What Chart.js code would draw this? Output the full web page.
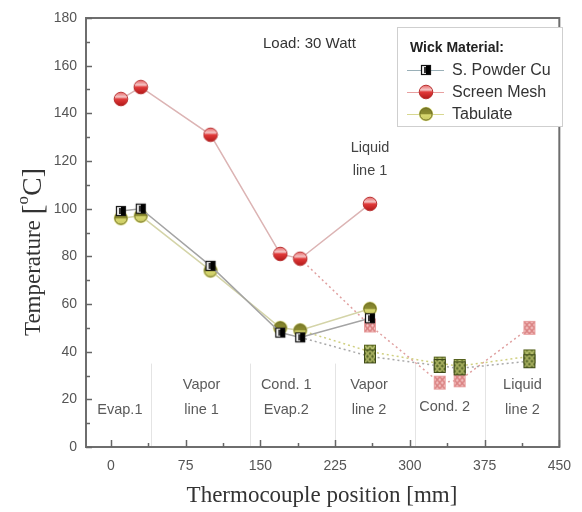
<!DOCTYPE html>
<html>
<head>
<meta charset="utf-8">
<script src="https://cdn.jsdelivr.net/npm/chart.js@4.4.1/dist/chart.umd.min.js"></script>
<style>
html,body{margin:0;padding:0;background:#fff;}
#wrap{width:582px;height:512px;}
</style>
</head>
<body>
<div id="wrap"><canvas id="c" width="582" height="512"></canvas></div>
<script>
// ---- data ----
const seriesNames = ['S. Powder Cu', 'Screen Mesh', 'Tabulate'];
// first loop: Evap.1, Vapor line 1, Cond.1/Evap.2, Liquid line 1
const positionsLoop1 = [10, 30, 100, 170, 190, 260];
// second loop: from Cond.1 end -> Vapor line 2, Cond. 2, Liquid line 2
const positionsLoop2 = [190, 260, 330, 350, 420];
const powderLoop1 = [99, 100, 76, 48, 46, 54];
const powderLoop2 = [46, 38, 34, 33, 36];
const meshLoop1   = [146, 151, 131, 81, 79, 102];
const meshLoop2   = [79, 51, 27, 28, 50];
const tabLoop1    = [96, 97, 74, 50, 49, 58];
const tabLoop2    = [49, 40, 35, 34, 38];
const xTickValues = [0, 75, 150, 225, 300, 375, 450];
const yTickValues = [0, 20, 40, 60, 80, 100, 120, 140, 160, 180];
const regionBoundaries = [40, 140, 225, 305, 375];
const regionLabels = [
  {x: 9,   lines: ['', 'Evap.1']},
  {x: 91,  lines: ['Vapor', 'line 1']},
  {x: 176, lines: ['Cond. 1', 'Evap.2']},
  {x: 259, lines: ['Vapor', 'line 2']},
  {x: 335, lines: ['', 'Cond. 2'], shift: -3},
  {x: 413, lines: ['Liquid', 'line 2']}
];

// ---- marker images ----
function mk(w, h, draw){ const c=document.createElement('canvas'); c.width=w; c.height=h; draw(c.getContext('2d'), w, h); return c; }
const redMarker = mk(16,16,(g)=>{
  const gr=g.createLinearGradient(0,1,0,15);
  gr.addColorStop(0,'#e86060'); gr.addColorStop(0.35,'#f4c8c8'); gr.addColorStop(0.5,'#e23a3a'); gr.addColorStop(1,'#b01818');
  g.beginPath(); g.arc(8,8,6.8,0,Math.PI*2); g.fillStyle=gr; g.fill();
  g.lineWidth=1; g.strokeStyle='#b83030'; g.stroke();
});
const oliveMarker = mk(16,16,(g)=>{
  g.beginPath(); g.arc(8,8,7.3,0,Math.PI*2); g.fillStyle='#f0f0a0'; g.fill();
  const gr=g.createLinearGradient(0,1,0,15);
  gr.addColorStop(0,'#7a7a28'); gr.addColorStop(0.5,'#8c8c30'); gr.addColorStop(0.55,'#d8d870'); gr.addColorStop(1,'#c8c860');
  g.beginPath(); g.arc(8,8,6.2,0,Math.PI*2); g.fillStyle=gr; g.fill();
  g.lineWidth=1; g.strokeStyle='#6a6a20'; g.stroke();
});
const blackMarker = mk(14,14,(g)=>{
  g.fillStyle='#f4f4f4'; g.fillRect(2,2,10,10);
  g.fillStyle='#000'; g.fillRect(7,2,5,10);
  g.fillStyle='#333'; g.fillRect(5,4,2,6);
  g.lineWidth=1.2; g.strokeStyle='#111'; g.strokeRect(2.5,2.5,9,9);
});
function crossed(bg, fg, edge){
  return mk(14,16,(g)=>{
    g.fillStyle=bg; g.fillRect(1,1,12,14);
    g.strokeStyle=fg; g.lineWidth=1.6;
    g.beginPath();
    g.moveTo(2,2); g.lineTo(12,14); g.moveTo(12,2); g.lineTo(2,14);
    g.moveTo(7,2); g.lineTo(12,8); g.lineTo(7,14); g.lineTo(2,8); g.closePath();
    g.stroke();
    g.lineWidth=1; g.strokeStyle=edge; g.strokeRect(1.5,1.5,11,13);
  });
}
const pinkCross = crossed('#f6c6c6', '#d98080', '#e8a0a0');
const oliveCross = crossed('#6b7a30', '#b8c070', '#56621e');
const blackCross = crossed('#58682a', '#a8b060', '#3e4a18');

function pts(xs, ys){ return xs.map((x,i)=>({x:x, y:ys[i]})); }

const datasets = [
  {label: seriesNames[0], data: pts(positionsLoop1, powderLoop1), showLine:true, borderColor:'#a4a4a4', borderWidth:1.5, pointStyle: blackMarker, pointRadius:6},
  {label: seriesNames[2], data: pts(positionsLoop1, tabLoop1), showLine:true, borderColor:'#d4d4a8', borderWidth:1.5, pointStyle: oliveMarker, pointRadius:6},
  {label: seriesNames[1], data: pts(positionsLoop1, meshLoop1), showLine:true, borderColor:'#dcb4b4', borderWidth:1.5, pointStyle: redMarker, pointRadius:6},
  {label: seriesNames[0]+' 2', data: pts(positionsLoop2, powderLoop2), showLine:true, borderColor:'#a8a8a8', borderWidth:1.5, borderDash:[2,3], pointStyle: blackCross, pointRadius:[0,6,6,6,6]},
  {label: seriesNames[2]+' 2', data: pts(positionsLoop2, tabLoop2), showLine:true, borderColor:'#d0d080', borderWidth:1.5, borderDash:[2,3], pointStyle: oliveCross, pointRadius:[0,6,6,6,6]},
  {label: seriesNames[1]+' 2', data: pts(positionsLoop2, meshLoop2), showLine:true, borderColor:'#e0a0a0', borderWidth:1.5, borderDash:[2,3], pointStyle: pinkCross, pointRadius:[0,6,6,6,6]}
];

const SANS = 'Arial, "Liberation Sans", sans-serif';
const SERIF = '"Times New Roman", "Liberation Serif", serif';

const decor = {
  id: 'decor',
  beforeDatasetsDraw(chart){
    const {ctx, chartArea:a, scales:{x, y}} = chart;
    ctx.save();
    ctx.strokeStyle = '#e4e4e4'; ctx.lineWidth = 1;
    regionBoundaries.forEach(v=>{
      const px = Math.round(x.getPixelForValue(v))+0.5;
      ctx.beginPath(); ctx.moveTo(px, a.bottom); ctx.lineTo(px, y.getPixelForValue(35)); ctx.stroke();
    });
    ctx.fillStyle = '#5a5a5a'; ctx.font = '14.5px ' + SANS; ctx.textAlign='center'; ctx.textBaseline='middle';
    regionLabels.forEach(r=>{
      const px = x.getPixelForValue(r.x);
      const s = r.shift || 0;
      if (r.lines[0]) ctx.fillText(r.lines[0], px, a.bottom-62+s);
      ctx.fillText(r.lines[1], px, a.bottom-37+s);
    });
    ctx.restore();
  },
  afterDraw(chart){
    const {ctx, chartArea:a, scales:{x, y}} = chart;
    ctx.save();
    ctx.strokeStyle = '#6e6e6e'; ctx.lineWidth = 2;
    ctx.strokeRect(a.left, a.top, a.right-a.left, a.bottom-a.top);
    ctx.lineWidth = 1.5; ctx.strokeStyle='#666';
    for (let v=0; v<=180; v+=10){
      const py = Math.round(y.getPixelForValue(v))+0.5;
      const len = (v%20===0)?6:4;
      ctx.beginPath(); ctx.moveTo(a.left, py); ctx.lineTo(a.left+len, py); ctx.stroke();
    }
    for (let v=0; v<=450; v+=37.5){
      const px = Math.round(x.getPixelForValue(v))+0.5;
      const len = (v%75===0)?7:4;
      ctx.beginPath(); ctx.moveTo(px, a.bottom); ctx.lineTo(px, a.bottom-len); ctx.stroke();
    }
    ctx.fillStyle = '#333'; ctx.font = '15px ' + SANS; ctx.textBaseline='middle';
    ctx.textAlign='left';
    ctx.fillText('Load: 30 Watt', 263, 44);
    ctx.fillStyle = '#444'; ctx.font = '14.5px ' + SANS; ctx.textAlign='center';
    const lx = x.getPixelForValue(260);
    ctx.fillText('Liquid', lx, 148);
    ctx.fillText('line 1', lx, 171);
    // legend
    ctx.fillStyle='#fff'; ctx.fillRect(397,27,166,100);
    ctx.strokeStyle='#cfcfcf'; ctx.lineWidth=1; ctx.strokeRect(397.5,27.5,165,99);
    ctx.fillStyle='#222'; ctx.textAlign='left'; ctx.font='bold 14px ' + SANS;
    ctx.fillText('Wick Material:', 410, 48);
    const leg = [
      {name: seriesNames[0], img: blackMarker, col:'#9ab0b8'},
      {name: seriesNames[1], img: redMarker, col:'#e8a0a0'},
      {name: seriesNames[2], img: oliveMarker, col:'#d8d890'}
    ];
    leg.forEach((e,i)=>{
      const cy = 70 + i*22;
      ctx.strokeStyle=e.col; ctx.lineWidth=1.2;
      ctx.beginPath(); ctx.moveTo(407,cy+0.5); ctx.lineTo(444,cy+0.5); ctx.stroke();
      ctx.drawImage(e.img, 426 - e.img.width/2, cy - e.img.height/2);
      ctx.fillStyle='#333'; ctx.font='16px ' + SANS;
      ctx.fillText(e.name, 452, cy+1);
    });
    // axis titles
    ctx.fillStyle='#333'; ctx.textAlign='center'; ctx.textBaseline='alphabetic';
    ctx.font='23px ' + SERIF;
    ctx.fillText('Thermocouple position [mm]', 322, 502);
    ctx.translate(40, 252); ctx.rotate(-Math.PI/2);
    const parts = [
      {t:'Temperature ', f:'23px '+SERIF, dy:0},
      {t:'[', f:'30px '+SERIF, dy:2},
      {t:'o', f:'17px '+SERIF, dy:-12},
      {t:'C]', f:'28px '+SERIF, dy:1}
    ];
    let tw=0; parts.forEach(p=>{ctx.font=p.f; p.w=ctx.measureText(p.t).width; tw+=p.w;});
    let cx=-tw/2; ctx.textAlign='left';
    parts.forEach(p=>{ctx.font=p.f; ctx.fillText(p.t, cx, p.dy); cx+=p.w;});
    ctx.restore();
  }
};

new Chart(document.getElementById('c'), {
  type: 'scatter',
  data: {datasets},
  options: {
    responsive:false, animation:false, devicePixelRatio:1,
    layout:{padding:{left:0, right:10, top:18, bottom:0}},
    plugins:{legend:{display:false}, tooltip:{enabled:false}},
    scales:{
      x:{type:'linear', min:-25, max:450,
        afterBuildTicks(s){ s.ticks = xTickValues.map(v=>({value:v})); },
        afterFit(s){ s.height = 65; },
        grid:{display:false, drawTicks:false}, border:{display:false},
        ticks:{font:{size:14, family:SANS}, color:'#555', padding:11, maxRotation:0, autoSkip:false}
      },
      y:{type:'linear', min:0, max:180,
        afterBuildTicks(s){ s.ticks = yTickValues.map(v=>({value:v})); },
        afterFit(s){ s.width = 86; },
        grid:{display:false, drawTicks:false}, border:{display:false},
        ticks:{font:{size:14, family:SANS}, color:'#555', padding:9}
      }
    }
  },
  plugins:[decor]
});
</script>
</body>
</html>
